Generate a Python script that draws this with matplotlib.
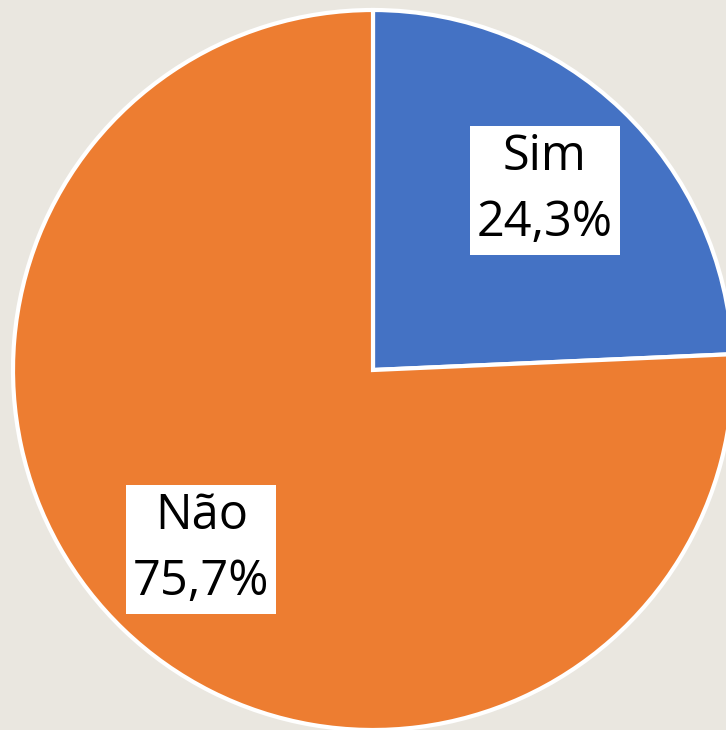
import matplotlib.pyplot as plt

categories = ['Sim', 'Não']
values = [24.3, 75.7]
colors = ['#4472C4', '#ED7D31']

fig = plt.figure(figsize=(7.26, 7.30), dpi=100)
fig.patch.set_facecolor('#EAE7E0')

ax = fig.add_axes([13/726, 0.0, 720/726, 720/730])
labels = [f"{c}\n{str(v).replace('.', ',')}%" for c, v in zip(categories, values)]
wedges, texts = ax.pie(values, labels=labels, colors=colors, startangle=90,
                       counterclock=False, labeldistance=0.69,
                       wedgeprops=dict(edgecolor='white', linewidth=3))
for t in texts:
  t.set_ha('center')
  t.set_va('center')
  t.set_fontsize(35)
  t.set_family('Open Sans')
  t.set_linespacing(1.45)
  t.set_bbox(dict(facecolor='white', edgecolor='none', pad=5))
ax.set_xlim(-1, 1)
ax.set_ylim(-1, 1)
ax.set_aspect('equal')
ax.axis('off')

fig.savefig('out.png', dpi=100, facecolor=fig.get_facecolor())
